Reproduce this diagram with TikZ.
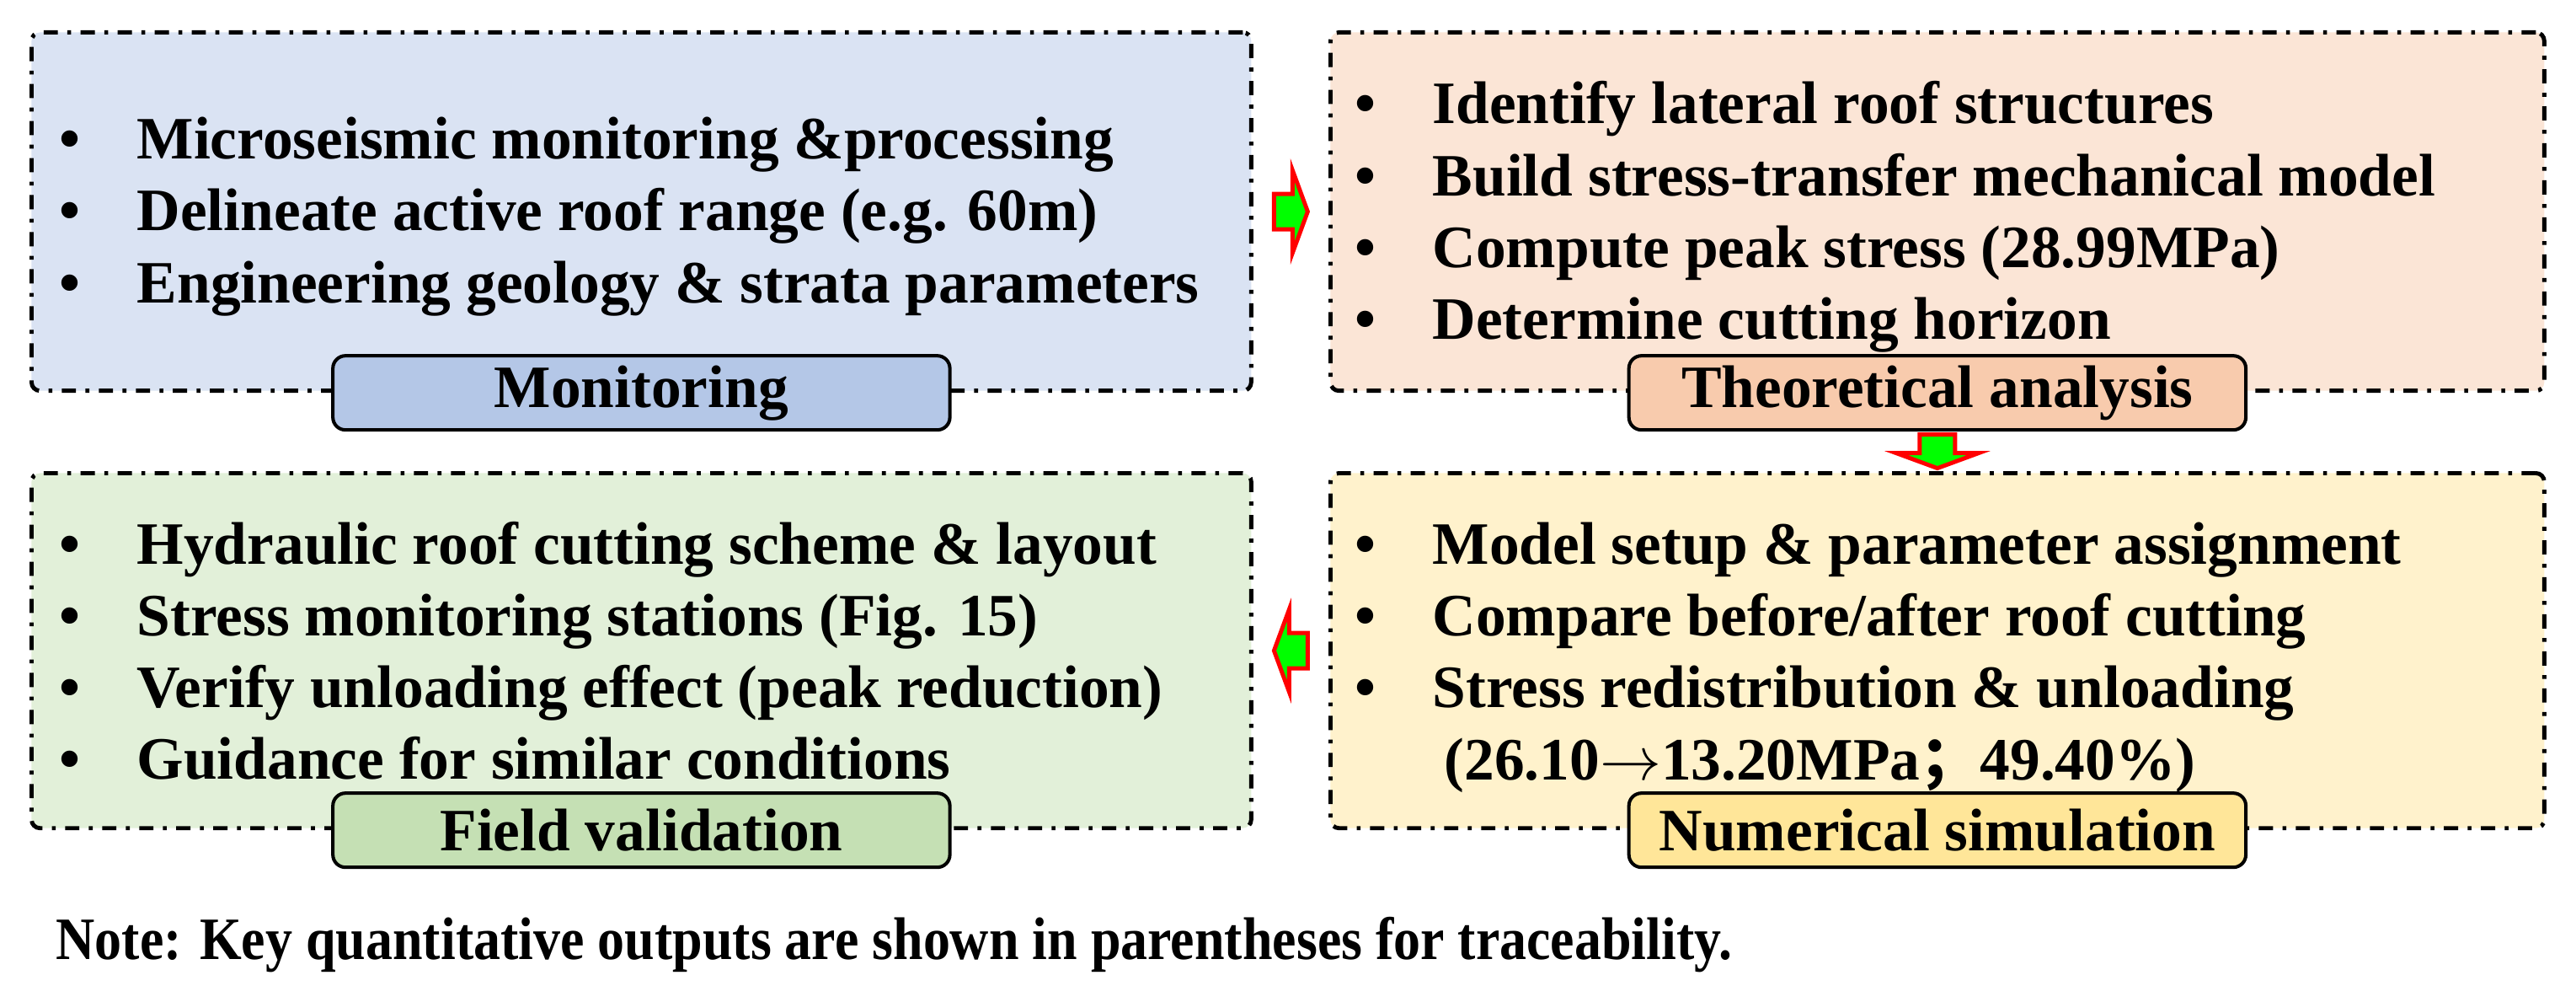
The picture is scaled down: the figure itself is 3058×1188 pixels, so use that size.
\documentclass[tikz,border=0pt]{standalone}
\usepackage{fontspec}
\setmainfont{Liberation Serif}[BoldFont={Liberation Serif Bold}]
\newfontfamily\cjkfont{Noto Sans CJK SC}
\usepackage{xcolor}
\usepackage{tikz}
\usetikzlibrary{calc}
\definecolor{MonFill}{HTML}{DAE3F3}
\definecolor{MonTag}{HTML}{B4C7E7}
\definecolor{TheoFill}{HTML}{FBE5D6}
\definecolor{TheoTag}{HTML}{F8CBAD}
\definecolor{SimFill}{HTML}{FFF2CC}
\definecolor{SimTag}{HTML}{FFE699}
\definecolor{FieldFill}{HTML}{E2F0D9}
\definecolor{FieldTag}{HTML}{C5E0B4}
\definecolor{FlowGreen}{HTML}{00FF00}
\definecolor{FlowRed}{HTML}{FF0000}
\newcommand\itembul{\makebox[0.92cm][l]{\textbullet}}

\begin{document}
\begin{tikzpicture}[x=0.01cm, y=-0.01cm,
  font=\fontsize{20.3}{24}\selectfont\bfseries,
  panel/.style={draw=black, line width=1.4pt, dash pattern=on 4.8pt off 3.2pt on 1.3pt off 3.2pt,
    rounded corners=0.1cm, anchor=north west, inner sep=0pt},
  tag/.style={draw=black, line width=1.15pt, rounded corners=0.15cm,
    minimum width=7.32cm, minimum height=0.88cm, inner sep=0pt},
  item/.style={anchor=base west, inner sep=0pt},
  flow/.style={draw=FlowRed, fill=FlowGreen, line width=1.4pt, line join=miter},
  blockarr/.pic={\path[flow] (-20,-21) -- (2,-21) -- (2,-49) -- (20,0) -- (2,49) -- (2,21) -- (-20,21) -- cycle;}]
  \useasboundingbox (0,0) rectangle (3058,1188);

  % four stages
  \node[panel, fill=MonFill, minimum width=14.47cm, minimum height=4.25cm] (mon) at (35,36) {};
  \node[panel, fill=TheoFill, minimum width=14.40cm, minimum height=4.25cm] (theo) at (1577,36) {};
  \node[panel, fill=FieldFill, minimum width=14.47cm, minimum height=4.21cm] (field) at (35,559) {};
  \node[panel, fill=SimFill, minimum width=14.40cm, minimum height=4.21cm] (num) at (1577,559) {};

  \node[tag, fill=MonTag] (montag) at (mon.south) {Monitoring};
  \node[tag, fill=TheoTag] (theotag) at (theo.south) {Theoretical analysis};
  \node[tag, fill=FieldTag] (fieldtag) at (field.south) {Field validation};
  \node[tag, fill=SimTag] (numtag) at (num.south) {Numerical simulation};

  \foreach \txt [count=\i] in {Microseismic monitoring \&processing,
      Delineate active roof range (e.g. 60m),
      Engineering geology \& strata parameters}
    \node[item] (mon-\i) at (70,{189+85*(\i-1)}) {\itembul\txt};

  \foreach \txt [count=\i] in {Identify lateral roof structures,
      Build stress-transfer mechanical model,
      Compute peak stress (28.99MPa),
      Determine cutting horizon}
    \node[item] (theo-\i) at (1608,{147+85*(\i-1)}) {\itembul\txt};

  \foreach \txt [count=\i] in {Hydraulic roof cutting scheme \& layout,
      Stress monitoring stations (Fig. 15),
      Verify unloading effect (peak reduction),
      Guidance for similar conditions}
    \node[item] (field-\i) at (70,{669+85*(\i-1)}) {\itembul\txt};

  \foreach \txt [count=\i] in {Model setup \& parameter assignment,
      Compare before/after roof cutting,
      Stress redistribution \& unloading}
    \node[item] (num-\i) at (1608,{669+85*(\i-1)}) {\itembul\txt};
  \node[item] (num-4) at (1714,925) {(26.10$\rightarrow$13.20MPa{\cjkfont ；}49.40\%)};

  % block arrows between stages
  \pic at ($(mon.east)!0.5!(theo.west)$) {blockarr};
  \pic[rotate=-90] at ($(theotag.south)!0.5!(num.north)$) {blockarr};
  \pic[rotate=180] at ($(num.west)!0.5!(field.east)$) {blockarr};

  \node[item] (note) at (66,1138)
    {\scalebox{0.896}[1]{Note: Key quantitative outputs are shown in parentheses for traceability.}};
\end{tikzpicture}
\end{document}
